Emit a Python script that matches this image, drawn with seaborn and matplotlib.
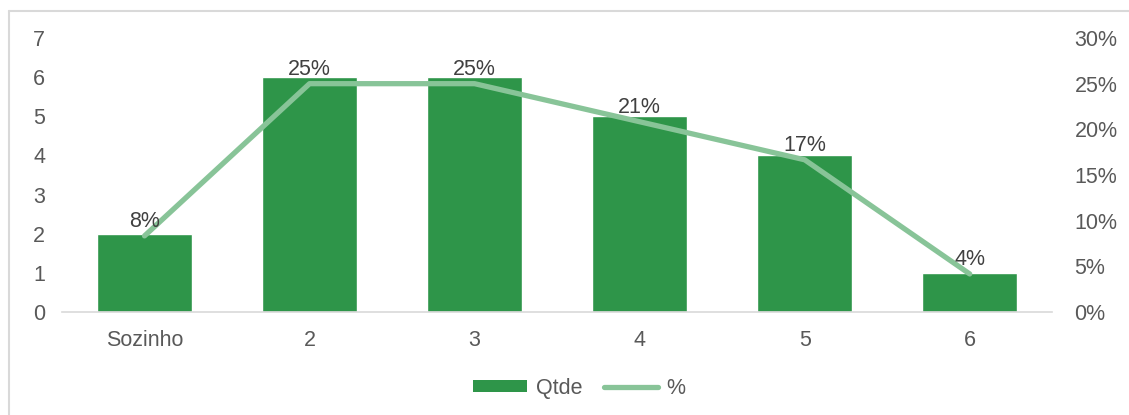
import numpy as np
import pandas as pd
import matplotlib
matplotlib.use("Agg")
import matplotlib.pyplot as plt
import seaborn as sns
from matplotlib.patches import Patch
from matplotlib.lines import Line2D
from matplotlib.ticker import PercentFormatter

categories = ["Sozinho", "2", "3", "4", "5", "6"]
qtde = [2, 6, 6, 5, 4, 1]
pct = [2 / 24, 6 / 24, 6 / 24, 5 / 24, 4 / 24, 1 / 24]
pct_labels = ["8%", "25%", "25%", "21%", "17%", "4%"]
left_ticks = [0, 1, 2, 3, 4, 5, 6, 7]
right_ticks = [0, 0.05, 0.10, 0.15, 0.20, 0.25, 0.30]

sns.set_theme(style="white")
plt.rcParams['font.family'] = ['Liberation Sans', 'DejaVu Sans']

BAR = "#2E9549"
LINE = "#88C498"
TXT = "#595959"
LBL = "#404040"
FS = 15.5

df = pd.DataFrame({"cat": categories, "qtde": qtde, "pct": pct})

fig = plt.figure(figsize=(11.29, 4.15), dpi=100)
ax = fig.add_axes([0.0549, 0.2482, 0.932 - 0.0549, 0.9084 - 0.2482])

sns.barplot(data=df, x="cat", y="qtde", color=BAR, saturation=1, width=0.575, ax=ax)
ax.set_ylim(0, 7)
ax.set_yticks(left_ticks)
ax.set_xlim(-0.5, len(categories) - 0.5)
ax.set_xlabel("")
ax.set_ylabel("")
for s in ["top", "right", "left"]:
    ax.spines[s].set_visible(False)
ax.spines["bottom"].set_color("#D9D9D9")
ax.spines["bottom"].set_linewidth(1.2)
ax.tick_params(axis="y", length=0, pad=12, labelsize=FS, labelcolor=TXT)
ax.tick_params(axis="x", length=0, pad=13, labelsize=FS, labelcolor=TXT)

ax2 = ax.twinx()
xpos = np.arange(len(categories))
sns.lineplot(x=xpos, y=pct, ax=ax2, color=LINE, linewidth=3.8,
             solid_capstyle="round", solid_joinstyle="round")
ax2.set_ylim(0, 0.30)
ax2.set_yticks(right_ticks)
ax2.yaxis.set_major_formatter(PercentFormatter(1.0, decimals=0))
ax2.set_xlim(-0.5, len(categories) - 0.5)
for s in ["top", "right", "left", "bottom"]:
    ax2.spines[s].set_visible(False)
ax2.tick_params(axis="y", length=0, pad=16, labelsize=FS, labelcolor=TXT)
ax2.set_ylabel("")

for x, y, t in zip(xpos, pct, pct_labels):
    ax2.annotate(t, (x, y), xytext=(0, 3), textcoords="offset points",
                 ha="center", va="bottom", fontsize=FS, color=LBL)

handles = [Patch(facecolor=BAR, edgecolor="none"),
           Line2D([0], [0], color=LINE, linewidth=3.8, solid_capstyle="round")]
fig.legend(handles, ["Qtde", "%"], loc="center", bbox_to_anchor=(0.513, 0.064),
           ncol=2, frameon=False, fontsize=FS, labelcolor=TXT,
           handlelength=2.5, handleheight=0.5, handletextpad=0.4, columnspacing=1.0)

# chart-area border (top and left visible)
fig.add_artist(Line2D([0.008, 1.0], [1 - 11 / 415, 1 - 11 / 415], color="#D9D9D9", linewidth=1.5))
fig.add_artist(Line2D([0.008, 0.008], [0, 1 - 11 / 415], color="#D9D9D9", linewidth=1.5))

fig.savefig("out.png", dpi=100, facecolor="white")
